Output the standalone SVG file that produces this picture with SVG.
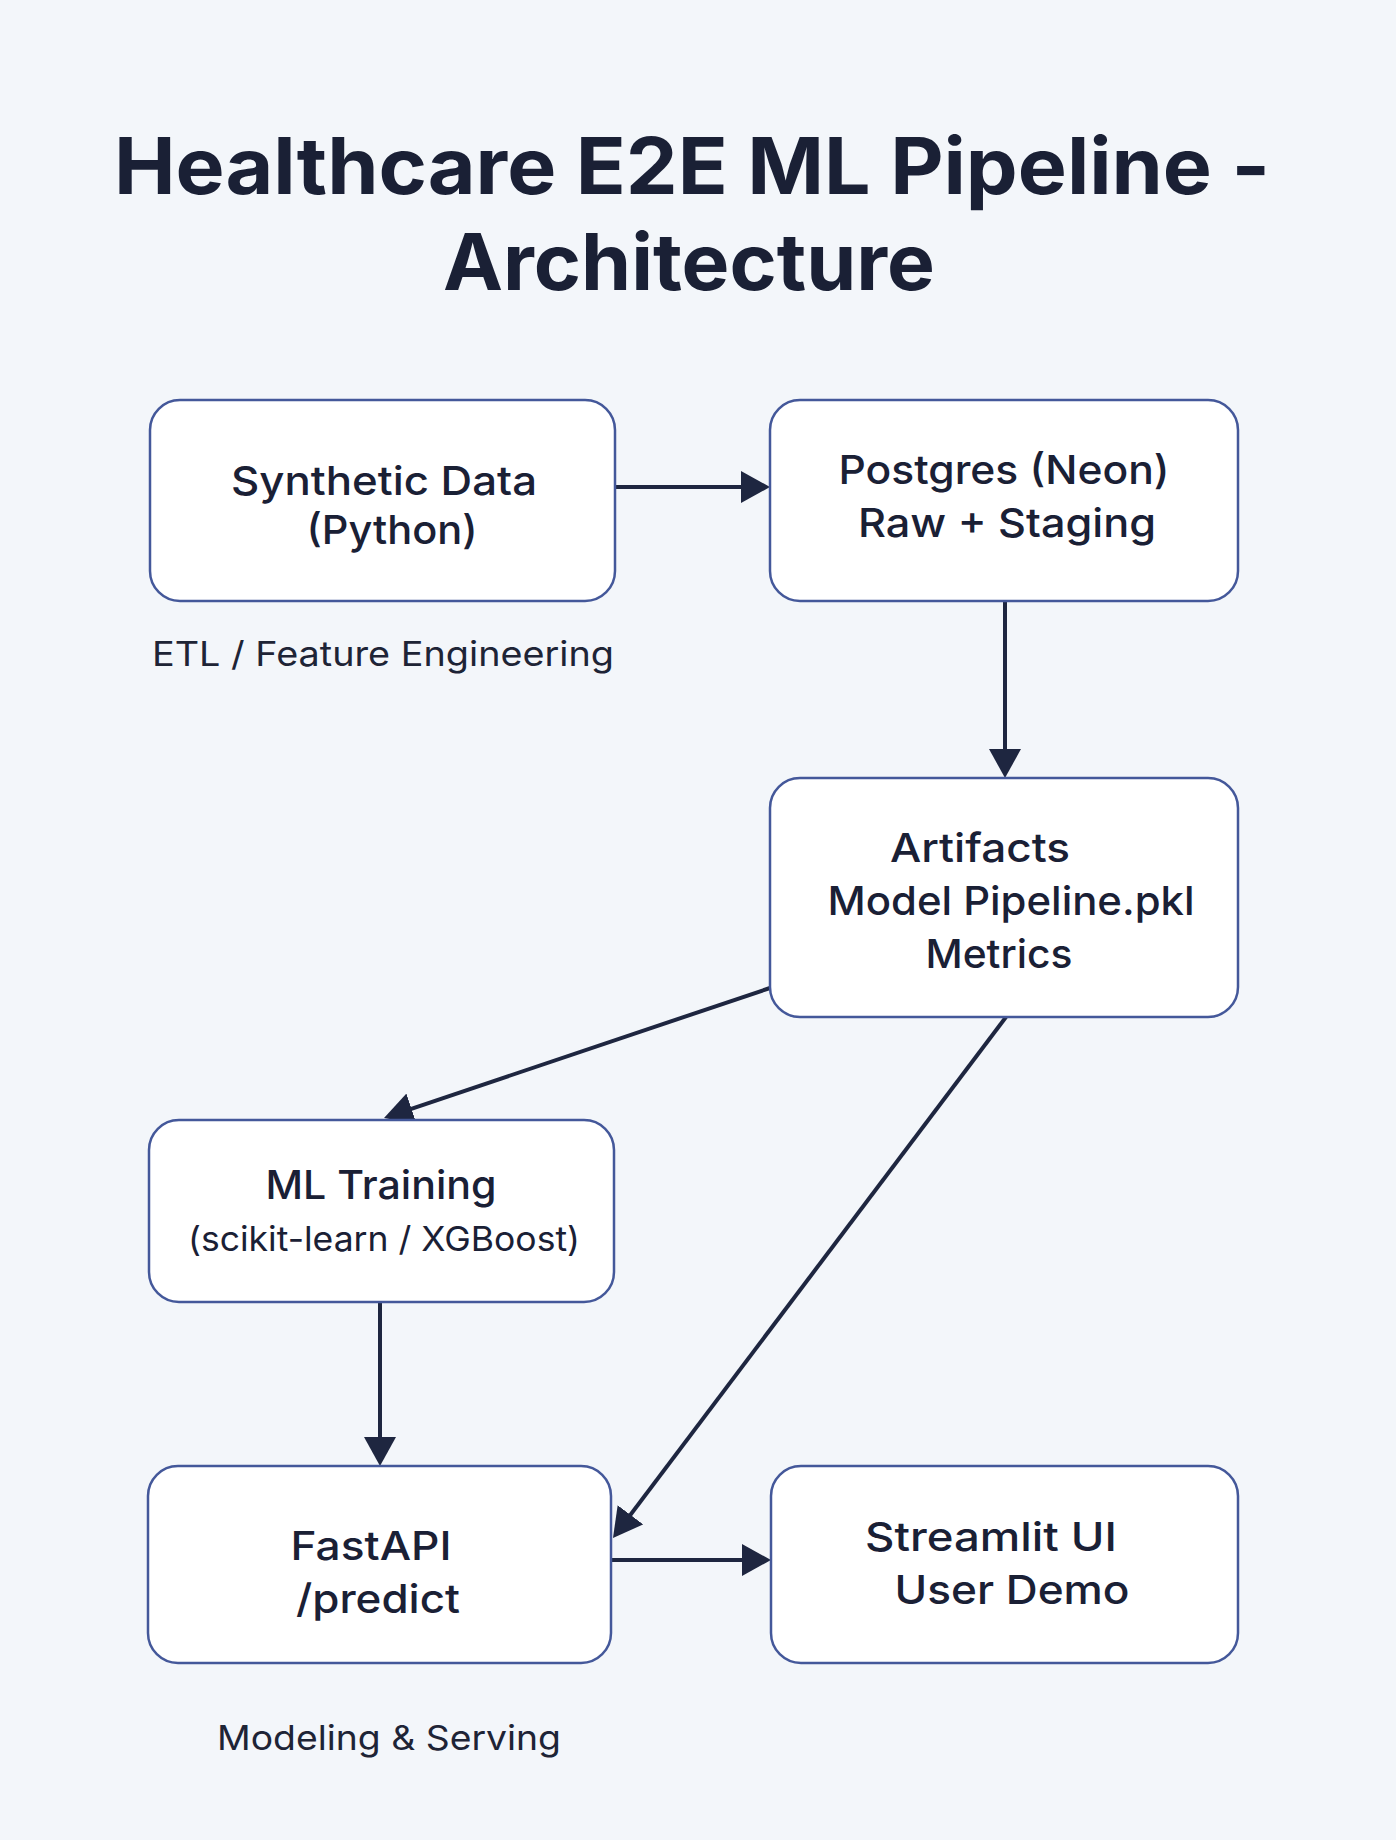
<svg xmlns="http://www.w3.org/2000/svg" width="1396" height="1840" viewBox="0 0 1396 1840">
<defs>
<style>
.bg{fill:#f3f6fa}
.box{fill:#ffffff;stroke:#44589a;stroke-width:2.5}
.t{font-family:Inter,"Noto Sans","Liberation Sans",sans-serif;fill:#1a2035;text-anchor:middle}
.title{font-size:78px;font-weight:700}
.node{font-size:40px;font-weight:500}
.small{font-size:34px;font-weight:400}
.lab{font-family:Inter,"Noto Sans","Liberation Sans",sans-serif;fill:#1e2436;font-size:34px;font-weight:400}
.edge{stroke:#1e2640;stroke-width:4;fill:none}
</style>
<marker id="ah" viewBox="0 0 29 32" refX="19" refY="16" markerWidth="29" markerHeight="32" markerUnits="userSpaceOnUse" orient="auto">
<path d="M0,0 L29,16 L0,32 z" fill="#1e2640"/>
</marker>
</defs>
<rect class="bg" x="0" y="0" width="1396" height="1840"/>
<g id="title">
<text class="t title" x="692" y="194" textLength="1156" lengthAdjust="spacingAndGlyphs">Healthcare E2E ML Pipeline -</text>
<text class="t title" x="689" y="290" textLength="492" lengthAdjust="spacingAndGlyphs">Architecture</text>
</g>
<g id="connectors">
<line class="edge" x1="615" y1="487" x2="760" y2="487" marker-end="url(#ah)"/>
<line class="edge" x1="1005" y1="601" x2="1005" y2="768" marker-end="url(#ah)"/>
<line class="edge" x1="770" y1="988" x2="393.5" y2="1114.8" marker-end="url(#ah)"/>
<line class="edge" x1="1006" y1="1017" x2="619" y2="1530" marker-end="url(#ah)"/>
<line class="edge" x1="380" y1="1302" x2="380" y2="1456" marker-end="url(#ah)"/>
<line class="edge" x1="611" y1="1560" x2="761" y2="1560" marker-end="url(#ah)"/>
</g>
<g id="synthetic">
<rect class="box" x="150" y="400" width="465" height="201" rx="30"/>
<text class="t node" x="384" y="495" textLength="306" lengthAdjust="spacingAndGlyphs">Synthetic Data</text>
<text class="t node" x="392" y="544" textLength="171" lengthAdjust="spacingAndGlyphs">(Python)</text>
</g>
<g id="postgres">
<rect class="box" x="770" y="400" width="468" height="201" rx="30"/>
<text class="t node" x="1004" y="484" textLength="331" lengthAdjust="spacingAndGlyphs">Postgres (Neon)</text>
<text class="t node" x="1007" y="537" textLength="298" lengthAdjust="spacingAndGlyphs">Raw + Staging</text>
</g>
<g id="artifacts">
<rect class="box" x="770" y="778" width="468" height="239" rx="30"/>
<text class="t node" x="980" y="862" textLength="180" lengthAdjust="spacingAndGlyphs">Artifacts</text>
<text class="t node" x="1011" y="915" textLength="367" lengthAdjust="spacingAndGlyphs">Model Pipeline.pkl</text>
<text class="t node" x="999" y="968" textLength="147" lengthAdjust="spacingAndGlyphs">Metrics</text>
</g>
<g id="training">
<rect class="box" x="149" y="1120" width="465" height="182" rx="30"/>
<text class="t node" x="381" y="1199" textLength="231" lengthAdjust="spacingAndGlyphs">ML Training</text>
<text class="t small" x="384" y="1251" textLength="392" lengthAdjust="spacingAndGlyphs">(scikit-learn / XGBoost)</text>
</g>
<g id="fastapi">
<rect class="box" x="148" y="1466" width="463" height="197" rx="30"/>
<text class="t node" x="371" y="1560" textLength="161" lengthAdjust="spacingAndGlyphs">FastAPI</text>
<text class="t node" x="378" y="1613" textLength="164" lengthAdjust="spacingAndGlyphs">/predict</text>
</g>
<g id="streamlit">
<rect class="box" x="771" y="1466" width="467" height="197" rx="30"/>
<text class="t node" x="991" y="1551" textLength="252" lengthAdjust="spacingAndGlyphs">Streamlit UI</text>
<text class="t node" x="1012" y="1604" textLength="235" lengthAdjust="spacingAndGlyphs">User Demo</text>
</g>
<g id="labels">
<text class="lab" x="152" y="666" textLength="462" lengthAdjust="spacingAndGlyphs">ETL / Feature Engineering</text>
<text class="lab" x="217" y="1750" textLength="344" lengthAdjust="spacingAndGlyphs">Modeling &amp; Serving</text>
</g>
</svg>
